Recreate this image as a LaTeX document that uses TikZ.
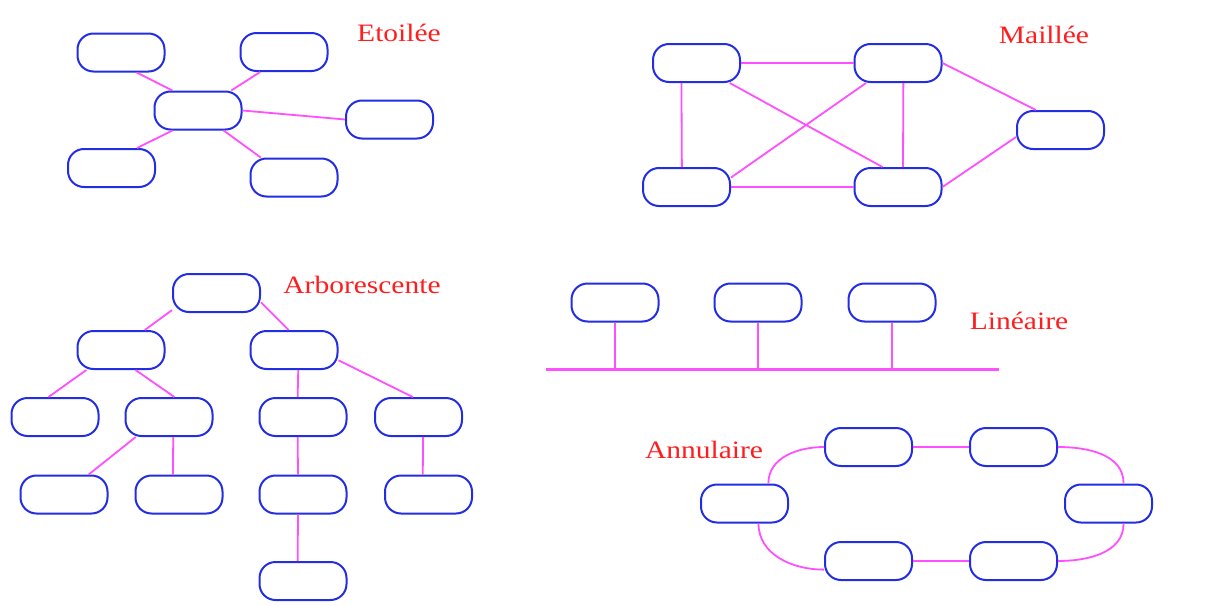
\documentclass[tikz,border=0pt]{standalone}
\usepackage{fontspec}
\setmainfont{Liberation Serif}
\definecolor{hostblue}{RGB}{35,45,225}
\definecolor{linkpink}{RGB}{255,80,255}
\definecolor{titlered}{RGB}{255,30,30}
\newcommand\widetitle[1]{\scalebox{1.18}[1]{#1}}
\tikzset{
host/.style={draw=hostblue, line width=2pt, rounded corners=16pt,
  minimum width=87pt, minimum height=38pt, inner sep=0pt},
link/.style={draw=linkpink, line width=1.8pt},
bus/.style={draw=linkpink, line width=3pt},
topo/.style={text=titlered, font=\fontsize{25}{28}\selectfont, anchor=base, inner sep=0pt}
}

\begin{document}
\begin{tikzpicture}[x=1pt, y=1pt]
\useasboundingbox (0,0) rectangle (1218,-605);

% etoilee
\node[host] (e0) at (198,-110.5) {};
\node[host] (e1) at (121,-52.5) {};
\node[host] (e2) at (284,-52) {};
\node[host] (e3) at (389.5,-119.5) {};
\node[host] (e4) at (111.5,-168) {};
\node[host] (e5) at (294,-177.5) {};
\node[topo] (te) at (399,-41) {\widetitle{Etoilée}};
\draw[link] (e1.-52) -- (e0.142);
\draw[link] (e2.-140) -- (e0.31);
\draw[link] (e0.east) -- (e3.west);
\draw[link] (e0.-142) -- (e4.38);
\draw[link] (e0.-38) -- (e5.149);

% maillee
\node[host] (m1) at (696.5,-63) {};
\node[host] (m2) at (898,-63) {};
\node[host] (m3) at (1060.5,-130) {};
\node[host] (m4) at (686.5,-187) {};
\node[host] (m5) at (898,-187) {};
\node[topo] (tm) at (1044,-43) {\widetitle{Maillée}};
\draw[link] (m1.east) -- (m2.west);
\draw[link] (m1.-127) -- (m4.103);
\draw[link] (m1.-31) -- (m5.128);
\draw[link] (m4.12) -- (m2.-148);
\draw[link] (m2.-75) -- (m5.76);
\draw[link] (m4.east) -- (m5.west);
\draw[link] (m2.east) -- (m3.141);
\draw[link] (m5.east) -- (m3.-171);

% arborescente
\node[host] (a0) at (216.5,-293) {};
\node[host] (a1) at (121,-350) {};
\node[host] (a2) at (294,-350) {};
\node[host] (a3) at (55,-417) {};
\node[host] (a4) at (169,-417) {};
\node[host] (a5) at (303,-417) {};
\node[host] (a6) at (418.5,-417) {};
\node[host] (a7) at (64,-494.5) {};
\node[host] (a8) at (179,-494.5) {};
\node[host] (a9) at (303,-494.5) {};
\node[host] (a10) at (428.5,-494.5) {};
\node[host] (a11) at (303,-581) {};
\node[topo] (ta) at (362,-293) {\widetitle{Arborescente}};
\draw[link] (a0.-159) -- (a1.40);
\draw[link] (a0.-12) -- (a2.105);
\draw[link] (a1.-150) -- (a3.108);
\draw[link] (a1.-54) -- (a4.75);
\draw[link] (a2.-78) -- (a5.105);
\draw[link] (a2.-13) -- (a6.106);
\draw[link] (a4.-149) -- (a7.39);
\draw[link] (a4.-78) -- (a8.107);
\draw[link] (a5.-105) -- (a9.104);
\draw[link] (a9.-104) -- (a11.105);
\draw[link] (a6.-77) -- (a10.106);

% lineaire
\node[host] (b1) at (615,-302.5) {};
\node[host] (b2) at (758,-302.5) {};
\node[host] (b3) at (892,-302.5) {};
\coordinate (busl) at (546,-369);
\coordinate (busr) at (999,-369);
\node[topo] (tl) at (1019,-329) {\widetitle{Linéaire}};
\draw[bus] (busl) -- (busr);
\foreach \b in {b1,b2,b3}
  \draw[link] (\b.south) -- (\b.south |- busl);

% annulaire
\node[host] (r1) at (744.5,-503.5) {};
\node[host] (r2) at (868.5,-447) {};
\node[host] (r3) at (1013.5,-447) {};
\node[host] (r4) at (1108.5,-503.5) {};
\node[host] (r5) at (1013.5,-561) {};
\node[host] (r6) at (868.5,-561) {};
\node[topo] (tr) at (704,-458) {\widetitle{Annulaire}};
\draw[link] (r1.40) to[out=90, in=180] (r2.west);
\draw[link] (r2.east) -- (r3.west);
\draw[link] (r3.east) to[out=0, in=90] (r4.53);
\draw[link] (r4.-53) to[out=-90, in=0] (r5.east);
\draw[link] (r5.west) -- (r6.east);
\draw[link] (r6.-169) to[out=180, in=-90] (r1.-55);
\end{tikzpicture}
\end{document}
